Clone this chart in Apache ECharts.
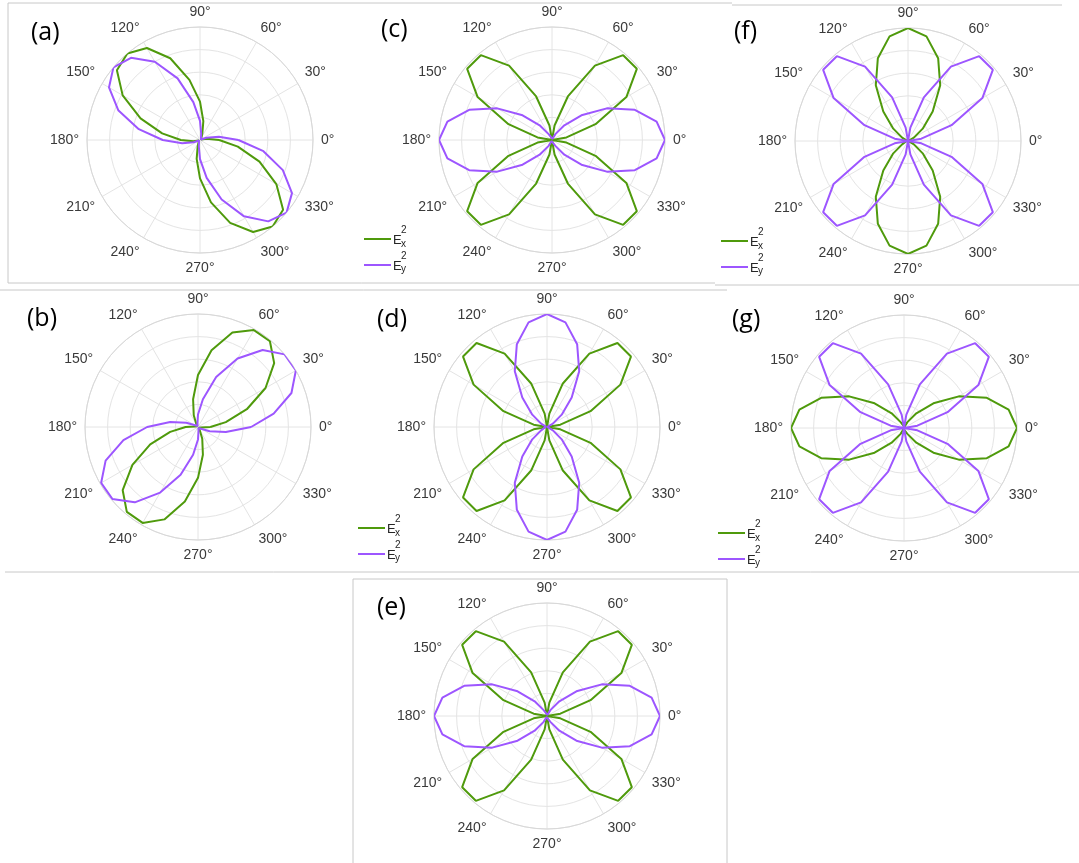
<!DOCTYPE html>
<html>
<head>
<meta charset="utf-8">
<title>Polar field intensity</title>
<script src="https://cdn.jsdelivr.net/npm/echarts@6/dist/echarts.min.js"></script>
<style>
  html, body { margin: 0; padding: 0; background: #ffffff; }
  #chart { width: 1079px; height: 863px; }
</style>
</head>
<body>
<div id="chart"></div>
<script>
// Polar angles (degrees), closed loop
const angles = [0,10,20,30,40,50,60,70,80,90,100,110,120,130,140,150,160,170,180,
                190,200,210,220,230,240,250,260,270,280,290,300,310,320,330,340,350,360];

const angleTicks = [0,30,60,90,120,150,180,210,240,270,300,330];

// (a)
const aEx = [0.17,0.06,0.01,0,0,0,0.01,0.06,0.17,0.34,0.54,0.77,0.94,1.00,0.96,0.79,0.56,0.34,0.17,
             0.06,0.01,0,0,0,0.01,0.06,0.17,0.34,0.56,0.78,0.94,1.00,0.96,0.78,0.56,0.34,0.17];
const aEy = [0.34,0.17,0.06,0.01,0,0,0,0.01,0.06,0.17,0.34,0.58,0.80,0.95,1.00,0.93,0.77,0.55,0.33,
             0.16,0.06,0.01,0,0,0,0.01,0.06,0.17,0.34,0.56,0.78,0.94,1.00,0.94,0.78,0.57,0.34];
// (b)
const bEx = [0.11,0.25,0.46,0.69,0.88,0.99,0.99,0.89,0.69,0.46,0.25,0.11,0.03,0.01,0,0,0.01,0.03,0.11,
             0.25,0.45,0.67,0.87,0.98,0.98,0.87,0.67,0.45,0.25,0.11,0.03,0.01,0,0,0.01,0.03,0.11];
const bEy = [0.47,0.68,0.88,1.00,1.00,0.89,0.70,0.47,0.25,0.11,0.03,0.01,0,0,0.01,0.03,0.11,0.25,0.45,
             0.67,0.87,0.99,0.99,0.87,0.67,0.45,0.25,0.11,0.03,0.01,0,0,0.01,0.03,0.11,0.25,0.47];
// (c)
const cEx = [0,0.13,0.41,0.76,0.98,0.98,0.76,0.41,0.13,0,0.13,0.41,0.76,0.98,0.98,0.76,0.41,0.13,0,
             0.13,0.41,0.76,0.98,0.98,0.76,0.41,0.13,0,0.13,0.41,0.76,0.98,0.98,0.76,0.41,0.13,0];
const cEy = [1.00,0.94,0.78,0.56,0.34,0.17,0.06,0.01,0,0,0,0.01,0.06,0.17,0.34,0.56,0.78,0.94,1.00,
             0.94,0.78,0.56,0.34,0.17,0.06,0.01,0,0,0,0.01,0.06,0.17,0.34,0.56,0.78,0.94,1.00];
// (d)
const dEx = [0,0.12,0.41,0.75,0.97,0.97,0.75,0.41,0.12,0,0.12,0.41,0.75,0.97,0.97,0.75,0.41,0.12,0,
             0.12,0.41,0.75,0.97,0.97,0.75,0.41,0.12,0,0.12,0.41,0.75,0.97,0.97,0.75,0.41,0.12,0];
const dEy = [0,0,0.01,0.06,0.17,0.34,0.57,0.78,0.94,1.00,0.94,0.78,0.57,0.34,0.17,0.06,0.01,0,0,
             0,0.01,0.06,0.17,0.34,0.57,0.78,0.94,1.00,0.94,0.78,0.57,0.34,0.17,0.06,0.01,0,0];
// (e)
const eEx = [0,0.12,0.41,0.76,0.98,0.98,0.76,0.41,0.12,0,0.12,0.41,0.76,0.98,0.98,0.76,0.41,0.12,0,
             0.12,0.41,0.76,0.98,0.98,0.76,0.41,0.12,0,0.12,0.41,0.76,0.98,0.98,0.76,0.41,0.12,0];
const eEy = [1.00,0.94,0.78,0.56,0.34,0.17,0.06,0.01,0,0,0,0.01,0.06,0.17,0.34,0.56,0.78,0.94,1.00,
             0.94,0.78,0.56,0.34,0.17,0.06,0.01,0,0,0,0.01,0.06,0.17,0.34,0.56,0.78,0.94,1.00];
// (f)
const fEx = [0,0,0.01,0.06,0.17,0.34,0.57,0.78,0.94,1.00,0.94,0.78,0.57,0.34,0.17,0.06,0.01,0,0,
             0,0.01,0.06,0.17,0.34,0.57,0.78,0.94,1.00,0.94,0.78,0.57,0.34,0.17,0.06,0.01,0,0];
const fEy = [0,0.12,0.41,0.76,0.98,0.98,0.76,0.41,0.12,0,0.12,0.41,0.76,0.98,0.98,0.76,0.41,0.12,0,
             0.12,0.41,0.76,0.98,0.98,0.76,0.41,0.12,0,0.12,0.41,0.76,0.98,0.98,0.76,0.41,0.12,0];
// (g)
const gEx = [1.00,0.94,0.78,0.56,0.34,0.17,0.06,0.01,0,0,0,0.01,0.06,0.17,0.34,0.56,0.78,0.94,1.00,
             0.94,0.78,0.56,0.34,0.17,0.06,0.01,0,0,0,0.01,0.06,0.17,0.34,0.56,0.78,0.94,1.00];
const gEy = [0,0.12,0.41,0.76,0.98,0.98,0.76,0.41,0.12,0,0.12,0.41,0.76,0.98,0.98,0.76,0.41,0.12,0,
             0.12,0.41,0.76,0.98,0.98,0.76,0.41,0.12,0,0.12,0.41,0.76,0.98,0.98,0.76,0.41,0.12,0];

const panelLetters = ['(a)','(b)','(c)','(d)','(e)','(f)','(g)'];
const panelEx = [aEx, bEx, cEx, dEx, eEx, fEx, gEx];
const panelEy = [aEy, bEy, cEy, dEy, eEy, fEy, gEy];

// Layout of each polar panel
const centers = [[200,140],[198,427],[552,140],[547,427],[547,716],[908,141],[904,428]];
const letterPos = [[31,33],[27,319],[381,30],[377,320],[377,608],[734,32],[732,320]];
const legendPos = [[364,239],[358,528],[721,241],[718,533]];
const RADIUS = 113;

const GREEN = '#4f9a0c';
const PURPLE = '#9d56ff';
const GRID = '#e4e4e4';
const FRAME = '#c8c8c8';

const polar = [], angleAxis = [], radiusAxis = [], series = [];
centers.forEach((c, i) => {
  polar.push({ center: c, radius: RADIUS });
  angleAxis.push({
    polarIndex: i, type: 'value', min: 0, max: 360, interval: 30,
    startAngle: 0, clockwise: false,
    axisLine: { show: true, lineStyle: { color: '#d8d8d8', width: 1 } },
    axisTick: { show: false },
    axisLabel: {
      show: true, margin: 8, color: '#3a3a3a', fontSize: 14,
      fontFamily: 'Liberation Sans',
      formatter: v => (angleTicks.indexOf(v) >= 0 ? v + '°' : '')
    },
    splitLine: { show: true, lineStyle: { color: GRID, width: 1 } }
  });
  radiusAxis.push({
    polarIndex: i, type: 'value', min: 0, max: 1, interval: 0.2,
    axisLine: { show: false }, axisTick: { show: false }, axisLabel: { show: false },
    splitLine: { show: true, lineStyle: { color: GRID, width: 1 } }
  });
  [[panelEx[i], GREEN, 'Ex'], [panelEy[i], PURPLE, 'Ey']].forEach(([vals, col, nm]) => {
    series.push({
      name: nm + i, type: 'line', coordinateSystem: 'polar', polarIndex: i,
      data: angles.map((a, k) => [vals[k], a]),
      showSymbol: false, symbol: 'none', smooth: false, silent: true,
      lineStyle: { color: col, width: 2 }
    });
  });
});

const graphic = [];
// Thin panel frames
const frameLines = [
  [8,3,732,3],[732,5,1062,5],[8,3,8,283],[8,283,715,283],[715,285,1079,285],
  [0,290,727,290],[5,572,1079,572],
  [353,579,727,579],[353,579,353,863],[727,579,727,863]
];
frameLines.forEach(([x1,y1,x2,y2]) => {
  graphic.push({ type: 'line', shape: { x1, y1, x2, y2 }, style: { stroke: FRAME, lineWidth: 1 }, silent: true });
});
// Panel letters
panelLetters.forEach((t, i) => {
  graphic.push({
    type: 'text', x: letterPos[i][0], y: letterPos[i][1], silent: true,
    style: { text: t, font: '25px "Open Sans", "Noto Sans", sans-serif', fill: '#000', align: 'left', verticalAlign: 'middle' }
  });
});
// Legends: E_x^2 and E_y^2
function addLegend(x, y) {
  [[y, GREEN, 'x'], [y + 26, PURPLE, 'y']].forEach(([ly, col, sub]) => {
    graphic.push({ type: 'line', shape: { x1: x, y1: ly, x2: x + 27, y2: ly }, style: { stroke: col, lineWidth: 2 }, silent: true });
    graphic.push({ type: 'text', x: x + 29, y: ly + 1, silent: true,
      style: { text: 'E', font: '13px "Liberation Sans", Arial, sans-serif', fill: '#262626', align: 'left', verticalAlign: 'middle' } });
    graphic.push({ type: 'text', x: x + 37, y: ly - 9, silent: true,
      style: { text: '2', font: '10px "Liberation Sans", Arial, sans-serif', fill: '#262626', align: 'left', verticalAlign: 'middle' } });
    graphic.push({ type: 'text', x: x + 37, y: ly + (sub === 'x' ? 5 : 4), silent: true,
      style: { text: sub, font: '10px "Liberation Sans", Arial, sans-serif', fill: '#262626', align: 'left', verticalAlign: 'middle' } });
  });
}
legendPos.forEach(p => addLegend(p[0], p[1]));

const chart = echarts.init(document.getElementById('chart'), null, { renderer: 'canvas' });
chart.setOption({
  backgroundColor: '#ffffff',
  animation: false,
  polar, angleAxis, radiusAxis, series, graphic
});
</script>
</body>
</html>
